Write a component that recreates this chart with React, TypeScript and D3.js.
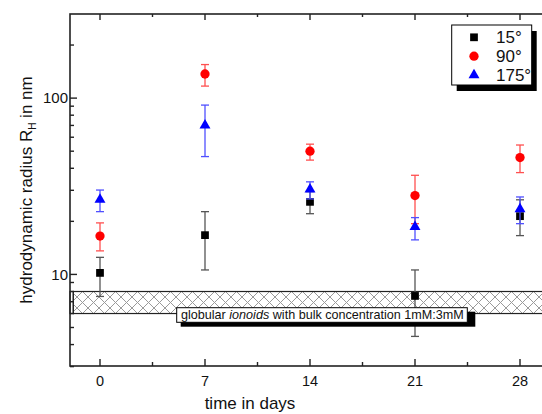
import React from "react";
import * as d3 from "d3";

// days of measurement
const days = [0, 7, 14, 21, 28];

// hydrodynamic radius (nm) per scattering angle, with error limits
const r15 = [10.2, 16.7, 25.8, 7.55, 21.4];
const r15Lo = [7.5, 10.6, 22.1, 4.45, 16.6];
const r15Hi = [12.5, 22.7, 29.5, 10.6, 26.5];

const r90 = [16.5, 137, 50, 28, 46];
const r90Lo = [13.6, 117, 44.5, 19.4, 37.8];
const r90Hi = [19.6, 155, 54.8, 36.5, 54.2];

const r175 = [26.6, 70, 30.4, 18.6, 23.5];
const r175Lo = [22.7, 46.6, 26.8, 15.7, 19.4];
const r175Hi = [30.1, 91.3, 33.5, 21, 27.5];

const xTicks = [0, 7, 14, 21, 28];
const xMinor = [3.5, 10.5, 17.5, 24.5];
const yMajor = [10, 100];
const yMinor = [3, 4, 5, 6, 7, 8, 9, 20, 30, 40, 50, 60, 70, 80, 90, 200];

// globular ionoids band
const bandLo = 6;
const bandHi = 8;

const series = [
  { name: "15°", vals: r15, lo: r15Lo, hi: r15Hi, fill: "#000000", bar: "#555555", sym: d3.symbolSquare, size: 60 },
  { name: "90°", vals: r90, lo: r90Lo, hi: r90Hi, fill: "#ff0000", bar: "#ff5050", sym: d3.symbolCircle, size: 68 },
  { name: "175°", vals: r175, lo: r175Lo, hi: r175Hi, fill: "#0000ff", bar: "#5050ff", sym: d3.symbolTriangle, size: 52 },
];

const W = 542;
const H = 414;
const left = 70, right = 550, top = 14, bottom = 366;

export default function App() {
  const x = d3.scaleLinear().domain([-2, 30]).range([left, right]);
  const y = d3.scaleLog().domain([3, 300]).range([bottom + 0.6, top]);
  const font = "'Liberation Sans', Arial, sans-serif";
  const axisCol = "#222";

  return (
    <svg width={W} height={H} style={{ position: "absolute", left: 0, top: 0, fontFamily: font }}>
      <defs>
        <pattern id="hatch" width="11" height="11" patternUnits="userSpaceOnUse">
          <path d="M0,0L11,11M11,0L0,11" stroke="#9a9a9a" strokeWidth="1" />
        </pattern>
        <clipPath id="plot">
          <rect x={left} y={top} width={right - left} height={bottom - top} />
        </clipPath>
      </defs>
      <rect width={W} height={H} fill="#fff" />

      {/* hatched band */}
      <g>
        <rect x={left} y={y(bandHi)} width={3.3} height={y(bandLo) - y(bandHi)} fill="#fff" stroke={axisCol} strokeWidth={1.2} />
        <rect x={left + 3.3} y={y(bandHi)} width={right - left} height={y(bandLo) - y(bandHi)} fill="url(#hatch)" stroke={axisCol} strokeWidth={1.2} />
      </g>

      {/* frame */}
      <rect x={left} y={top} width={right - left} height={bottom - top} fill="none" stroke={axisCol} strokeWidth={1.6} />

      {/* y ticks */}
      {yMajor.map((v) => (
        <g key={"ym" + v}>
          <line x1={left} x2={left + 7} y1={y(v)} y2={y(v)} stroke={axisCol} strokeWidth={1.4} />
          <text x={left - 2} y={y(v)} dy="0.35em" textAnchor="end" fontSize={15} fill="#111">{v}</text>
        </g>
      ))}
      {yMinor.map((v) => (
        <line key={"yn" + v} x1={left} x2={left + 4} y1={y(v)} y2={y(v)} stroke={axisCol} strokeWidth={1.4} />
      ))}

      {/* x ticks */}
      {xTicks.map((v) => (
        <g key={"xm" + v}>
          <line x1={x(v)} x2={x(v)} y1={bottom} y2={bottom - 7} stroke={axisCol} strokeWidth={1.4} />
          <line x1={x(v)} x2={x(v)} y1={top} y2={top + 6} stroke={axisCol} strokeWidth={1.4} />
          <text x={x(v)} y={385.5} textAnchor="middle" fontSize={14.5} fill="#111">{v}</text>
        </g>
      ))}
      {xMinor.map((v) => (
        <g key={"xn" + v}>
          <line x1={x(v)} x2={x(v)} y1={bottom} y2={bottom - 4} stroke={axisCol} strokeWidth={1.4} />
          <line x1={x(v)} x2={x(v)} y1={top} y2={top + 3} stroke={axisCol} strokeWidth={1.4} />
        </g>
      ))}

      {/* data */}
      <g clipPath="url(#plot)">
        {series.map((s) => (
          <g key={s.name}>
            {days.map((d, i) => (
              <g key={d} stroke={s.bar} strokeWidth={1.3}>
                <line x1={x(d)} x2={x(d)} y1={y(s.lo[i])} y2={y(s.hi[i])} />
                <line x1={x(d) - 4} x2={x(d) + 4} y1={y(s.lo[i])} y2={y(s.lo[i])} />
                <line x1={x(d) - 4} x2={x(d) + 4} y1={y(s.hi[i])} y2={y(s.hi[i])} />
              </g>
            ))}
            {days.map((d, i) => (
              <path key={"m" + d} d={d3.symbol(s.sym, s.size)() || ""} transform={`translate(${x(d)},${y(s.vals[i])})`} fill={s.fill} />
            ))}
          </g>
        ))}
      </g>

      {/* annotation */}
      <g>
        <rect x={180.7} y={311.7} width={294.6} height={15} fill="#000" />
        <rect x={176.7} y={307.7} width={290.6} height={14.6} fill="#fff" stroke="#000" strokeWidth={1} />
        <text x={181} y={315} dy="0.35em" fontSize={12.6} fill="#111">
          globular <tspan fontStyle="italic">ionoids</tspan> with bulk concentration 1mM:3mM
        </text>
      </g>

      {/* legend */}
      <g>
        <rect x={456.7} y={31} width={80} height={60} fill="#000" />
        <rect x={451.7} y={25} width={80} height={60} fill="#fff" stroke="#000" strokeWidth={1} />
        {series.map((s, i) => (
          <g key={"lg" + s.name} transform={`translate(0,${37.3 + i * 18.9})`}>
            <path d={d3.symbol(s.sym, s.size)() || ""} transform="translate(474,0)" fill={s.fill} />
            <text x={496} y={0} dy="0.35em" fontSize={17} fill="#111">{s.name}</text>
          </g>
        ))}
      </g>

      {/* axis titles */}
      <text x={250} y={409} textAnchor="middle" fontSize={17} fill="#111">time in days</text>
      <text transform={`translate(31.5,${(top + bottom) / 2}) rotate(-90)`} textAnchor="middle" fontSize={17} fill="#111">
        hydrodynamic radius R<tspan fontSize={10} dy={4}>H</tspan><tspan dy={-4}> in nm</tspan>
      </text>
    </svg>
  );
}
